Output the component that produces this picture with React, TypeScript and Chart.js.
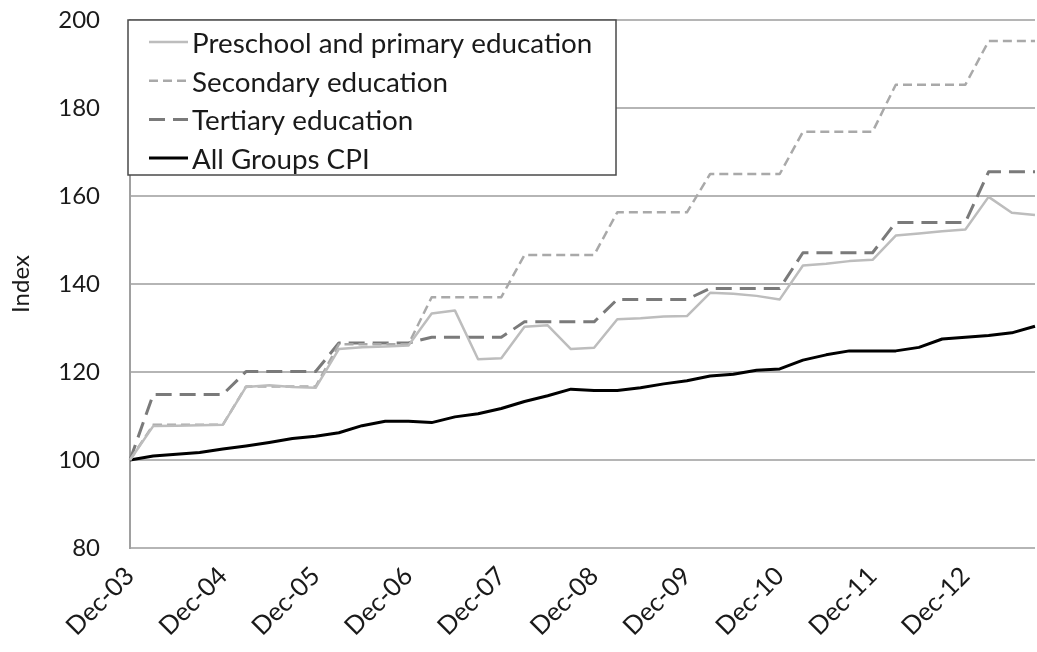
import React, { useEffect, useRef } from "react";
import { Chart, registerables } from "chart.js";

Chart.register(...registerables);

// Quarterly periods, December 2003 = 100
const quarters = [
  "Dec-03", "Mar-04", "Jun-04", "Sep-04",
  "Dec-04", "Mar-05", "Jun-05", "Sep-05",
  "Dec-05", "Mar-06", "Jun-06", "Sep-06",
  "Dec-06", "Mar-07", "Jun-07", "Sep-07",
  "Dec-07", "Mar-08", "Jun-08", "Sep-08",
  "Dec-08", "Mar-09", "Jun-09", "Sep-09",
  "Dec-09", "Mar-10", "Jun-10", "Sep-10",
  "Dec-10", "Mar-11", "Jun-11", "Sep-11",
  "Dec-11", "Mar-12", "Jun-12", "Sep-12",
  "Dec-12", "Mar-13", "Jun-13", "Sep-13",
];

const preschoolPrimary = [
  100, 107.7, 107.8, 107.9,
  108.0, 116.6, 117.0, 116.6,
  116.4, 125.2, 125.6, 125.8,
  126.0, 133.3, 134.0, 122.9,
  123.1, 130.3, 130.6, 125.2,
  125.5, 132.0, 132.2, 132.6,
  132.7, 138.0, 137.8, 137.3,
  136.5, 144.2, 144.6, 145.2,
  145.5, 151.0, 151.5, 152.0,
  152.4, 159.8, 156.2, 155.7,
];

const secondary = [
  100, 108.0, 108.0, 108.0,
  108.0, 116.7, 116.7, 116.7,
  116.7, 126.3, 126.3, 126.3,
  126.3, 137.0, 137.0, 137.0,
  137.0, 146.6, 146.6, 146.6,
  146.6, 156.3, 156.3, 156.3,
  156.3, 165.0, 165.0, 165.0,
  165.0, 174.6, 174.6, 174.6,
  174.6, 185.3, 185.3, 185.3,
  185.3, 195.2, 195.2, 195.2,
];

const tertiary = [
  100, 114.9, 114.9, 114.9,
  114.9, 120.1, 120.1, 120.1,
  120.1, 126.6, 126.6, 126.6,
  126.6, 127.9, 127.9, 127.9,
  127.9, 131.4, 131.4, 131.4,
  131.4, 136.5, 136.5, 136.5,
  136.5, 139.0, 139.0, 139.0,
  139.0, 147.1, 147.1, 147.1,
  147.1, 154.0, 154.0, 154.0,
  154.0, 165.5, 165.5, 165.5,
];

const allGroupsCpi = [
  100, 100.9, 101.3, 101.7,
  102.5, 103.2, 104.0, 104.9,
  105.4, 106.2, 107.8, 108.8,
  108.8, 108.5, 109.8, 110.5,
  111.7, 113.3, 114.6, 116.1,
  115.8, 115.8, 116.4, 117.3,
  118.0, 119.1, 119.5, 120.4,
  120.7, 122.7, 123.9, 124.8,
  124.8, 124.8, 125.6, 127.5,
  127.9, 128.3, 128.9, 130.4,
];

const seriesNames = [
  "Preschool and primary education",
  "Secondary education",
  "Tertiary education",
  "All Groups CPI",
];

const yTicks = [80, 100, 120, 140, 160, 180, 200];

const FONT = "Lato, 'Open Sans', sans-serif";

// Boxed legend drawn inside the top-left corner of the plot area
const insetLegend = {
  id: "insetLegend",
  afterDatasetsDraw(chart: any) {
    const { ctx, chartArea } = chart;
    const boxX = chartArea.left - 2;
    const boxY = chartArea.top;
    const boxW = 488;
    const boxH = 155;
    ctx.save();
    ctx.fillStyle = "#ffffff";
    ctx.fillRect(boxX, boxY, boxW, boxH);
    ctx.strokeStyle = "#4a4a4a";
    ctx.lineWidth = 1.5;
    ctx.strokeRect(boxX, boxY, boxW, boxH);

    const rowH = 38.7;
    const firstRow = boxY + 23;
    ctx.font = `27.8px ${FONT}`;
    ctx.textBaseline = "middle";
    ctx.fillStyle = "#1a1a1a";
    chart.data.datasets.forEach((ds: any, i: number) => {
      const cy = firstRow + i * rowH;
      ctx.save();
      ctx.strokeStyle = ds.borderColor;
      ctx.lineWidth = ds.borderWidth;
      ctx.setLineDash(ds.borderDash || []);
      ctx.beginPath();
      ctx.moveTo(boxX + 21, cy - 1);
      ctx.lineTo(boxX + 60, cy - 1);
      ctx.stroke();
      ctx.restore();
      ctx.fillText(ds.label, boxX + 64, cy + 1);
    });
    ctx.restore();
  },
};

export default function App() {
  const canvasRef = useRef<HTMLCanvasElement | null>(null);

  useEffect(() => {
    if (!canvasRef.current) return;
    const chart = new Chart(canvasRef.current, {
      type: "line",
      data: {
        labels: quarters,
        datasets: [
          {
            label: seriesNames[0],
            data: preschoolPrimary,
            borderColor: "#bdbdbd",
            borderWidth: 2.5,
          },
          {
            label: seriesNames[1],
            data: secondary,
            borderColor: "#a9a9a9",
            borderWidth: 2.5,
            borderDash: [9, 5],
          },
          {
            label: seriesNames[2],
            data: tertiary,
            borderColor: "#7a7a7a",
            borderWidth: 3,
            borderDash: [16, 8],
          },
          {
            label: seriesNames[3],
            data: allGroupsCpi,
            borderColor: "#000000",
            borderWidth: 3,
          },
        ],
      },
      options: {
        animation: false,
        responsive: false,
        maintainAspectRatio: false,
        elements: {
          point: { radius: 0, hoverRadius: 0 },
          line: { tension: 0, borderCapStyle: "butt", borderJoinStyle: "round" },
        },
        layout: { padding: { top: 20, right: 2, left: 0, bottom: 0 } },
        plugins: {
          legend: { display: false },
          tooltip: { enabled: false },
        },
        scales: {
          x: {
            type: "category",
            offset: false,
            grid: { display: false, drawTicks: false },
            border: { display: false },
            ticks: {
              autoSkip: false,
              maxRotation: 45,
              minRotation: 45,
              padding: 13,
              color: "#1a1a1a",
              font: { family: FONT, size: 25.5 },
              callback: (_v: any, i: number) => (i % 4 === 0 ? quarters[i] : ""),
            },
            afterFit: (scale: any) => {
              scale.height = 104;
              scale.paddingLeft = 0;
              scale.paddingRight = 0;
            },
          },
          y: {
            min: yTicks[0],
            max: yTicks[yTicks.length - 1],
            afterBuildTicks: (scale: any) => {
              scale.ticks = yTicks.map((v) => ({ value: v }));
            },
            grid: {
              color: "#b5b5b5",
              lineWidth: 2,
              drawTicks: false,
            },
            border: { display: true, color: "#a0a0a0", width: 2 },
            ticks: {
              padding: 30,
              color: "#1a1a1a",
              font: { family: FONT, size: 24 },
            },
            title: {
              display: true,
              text: "Index",
              color: "#1a1a1a",
              font: { family: FONT, size: 24 },
              padding: { top: 7, bottom: 0 },
            },
            afterFit: (scale: any) => {
              scale.width = 130;
              scale.paddingTop = 0;
              scale.paddingBottom = 0;
            },
          },
        },
      },
      plugins: [insetLegend],
    });
    return () => chart.destroy();
  }, []);

  return (
    <div style={{ position: "fixed", left: 0, top: 0, width: 1037, height: 652, background: "#fff" }}>
      <canvas ref={canvasRef} width={1037} height={652} style={{ display: "block" }} />
    </div>
  );
}
